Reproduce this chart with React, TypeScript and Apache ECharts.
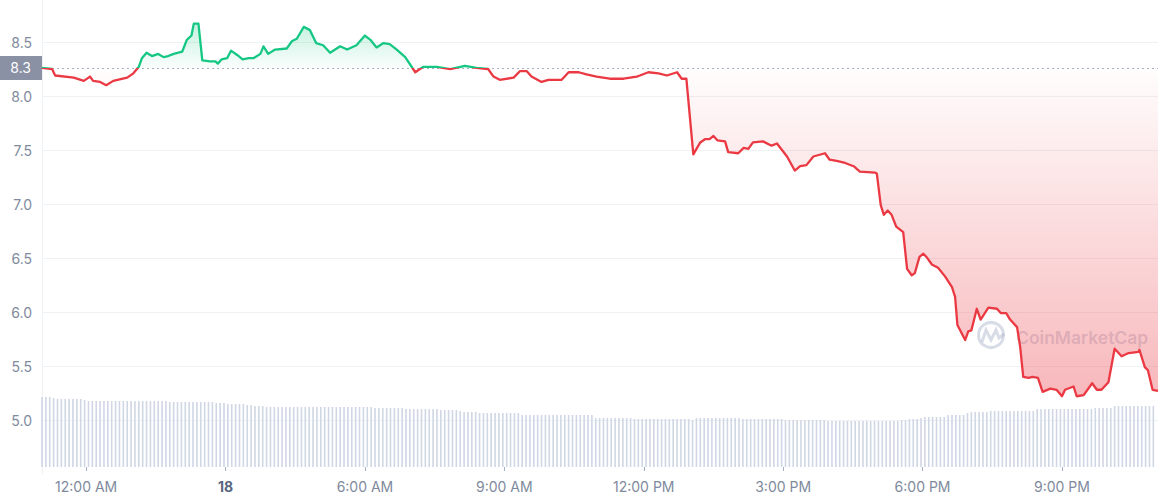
import React, { useEffect, useRef } from "react";
import * as echarts from "echarts";

// Price: minutes relative to the "12:00 AM" tick, and price values
const priceMinutes = [
  -57, -44, -40, -16, -3, 5, 9, 18, 26, 35, 53, 61, 68, 72, 78, 85, 93, 100, 106, 113,
  124, 130, 136, 139, 145, 150, 160, 167, 170, 175, 182, 187, 195, 202, 210, 216, 225, 229, 235, 244,
  259, 266, 272, 281, 289, 297, 306, 315, 328, 337, 349, 360, 367, 375, 384, 392, 401, 412, 425, 435,
  453, 470, 489, 504, 519, 526, 534, 552, 560, 569, 575, 588, 597, 614, 623, 636, 646, 659, 676, 694,
  711, 715, 726, 739, 750, 763, 769, 775, 784, 793, 799, 805, 810, 815, 825, 829, 842, 849, 855, 861,
  874, 885, 892, 905, 915, 922, 930, 939, 954, 960, 969, 980, 991, 999, 1019, 1021, 1026, 1030, 1035, 1040,
  1046, 1055, 1060, 1066, 1070, 1076, 1081, 1085, 1092, 1100, 1109, 1118, 1122, 1125, 1135, 1139, 1143, 1150, 1155, 1165,
  1176, 1181, 1188, 1193, 1202, 1206, 1210, 1217, 1222, 1229, 1235, 1245, 1253, 1260, 1264, 1275, 1279, 1288, 1299, 1305,
  1311, 1320, 1328, 1337, 1346, 1359, 1360, 1367, 1371, 1377, 1384,
];
const priceValues = [
  8.26, 8.25, 8.19, 8.17, 8.14, 8.18, 8.14, 8.13, 8.10, 8.14, 8.17, 8.21, 8.27, 8.35, 8.40, 8.37, 8.39, 8.36, 8.37, 8.39,
  8.41, 8.52, 8.56, 8.67, 8.67, 8.33, 8.32, 8.32, 8.30, 8.34, 8.35, 8.42, 8.38, 8.34, 8.35, 8.35, 8.39, 8.46, 8.39, 8.43,
  8.44, 8.51, 8.53, 8.64, 8.61, 8.49, 8.47, 8.40, 8.46, 8.43, 8.47, 8.56, 8.52, 8.45, 8.49, 8.48, 8.43, 8.36, 8.22, 8.27,
  8.27, 8.25, 8.28, 8.26, 8.25, 8.18, 8.15, 8.17, 8.23, 8.23, 8.18, 8.13, 8.15, 8.15, 8.22, 8.22, 8.20, 8.18, 8.16, 8.16,
  8.18, 8.19, 8.22, 8.21, 8.19, 8.22, 8.16, 8.16, 7.46, 7.57, 7.60, 7.60, 7.63, 7.59, 7.58, 7.48, 7.47, 7.52, 7.51, 7.57,
  7.58, 7.54, 7.56, 7.44, 7.31, 7.35, 7.36, 7.44, 7.47, 7.41, 7.40, 7.38, 7.35, 7.30, 7.29, 7.28, 6.99, 6.90, 6.94, 6.90,
  6.79, 6.74, 6.40, 6.34, 6.36, 6.51, 6.54, 6.51, 6.44, 6.41, 6.33, 6.23, 6.14, 5.88, 5.74, 5.82, 5.83, 6.03, 5.93, 6.04,
  6.03, 5.99, 5.99, 5.93, 5.86, 5.68, 5.40, 5.39, 5.40, 5.39, 5.26, 5.29, 5.28, 5.22, 5.28, 5.31, 5.22, 5.23, 5.34, 5.28,
  5.28, 5.35, 5.66, 5.59, 5.62, 5.63, 5.65, 5.49, 5.46, 5.28, 5.27,
];
const baseValue = 8.26;
const baseLabel = "8.3";

// Price axis
const priceAxisMin = 4.5;
const priceAxisMax = 8.889;
const priceAxisStep = 0.5;

// Volume: one bar every 5 minutes (relative units)
const volumeStartMinute = -57;
const volumeStepMinutes = 5;
const volumeValues = [
  70, 70, 70, 69,
  68, 68, 68, 68, 68, 68, 68, 67,
  66, 66, 66, 66, 66, 66, 66, 66, 66, 66, 66, 66, 66, 66, 66, 66, 66, 66, 66, 66, 66,
  65, 65, 65, 65, 65, 65, 65, 65, 65, 65, 65, 65,
  64, 64, 64, 63, 63, 63, 63, 63, 62, 62,
  61, 61, 61, 60, 60,
  60, 60, 60, 60, 60, 60, 60, 60, 60, 60, 60, 60, 60, 60, 60, 60, 60, 60, 60, 60, 60, 60, 60, 60, 60, 60,
  59, 59, 59, 59, 59, 59, 59, 59, 58, 58, 58, 58, 58, 58, 58,
  58, 58, 57, 57, 57, 57, 57,
  56, 55, 55, 55, 55,
  54, 54, 54, 54, 54, 54, 54, 54, 54, 54, 54,
  52, 52, 52, 52, 52, 52, 52, 52, 52, 52, 52, 52, 52, 52, 52, 52, 52, 52, 52,
  49, 49, 49, 49, 49, 49, 49, 49, 49, 49,
  48, 48, 48, 48, 48, 48, 48, 48, 48, 48, 48, 48, 48, 48, 48,
  47,
  49, 49, 49, 49, 49, 49, 49, 49, 49, 49, 49, 49,
  48, 48, 48, 48, 48, 48, 48, 48, 48, 48, 48, 47, 47, 47, 47, 47, 47, 47, 47, 47, 47, 47,
  46, 46, 46, 46, 46, 46, 46, 46, 46, 46, 46, 46, 46, 46, 46, 46, 46, 46, 46,
  47, 47, 48, 48, 48,
  49, 50, 50, 50, 50, 50, 50,
  52, 52, 52, 52, 52,
  54, 55, 55, 55, 55, 55, 56,
  56, 56, 56, 56, 56, 56, 56, 56, 56, 56, 56,
  58, 58, 58, 58, 58, 58, 58, 58, 58, 58, 58, 58, 58, 58, 58,
  59, 59, 59, 59, 59,
  61, 61, 61, 61, 61, 61, 61, 61, 61, 61, 61,
];

const xMinMinute = -57;
const xMaxMinute = 1384;
const tickStepMinutes = 180;
const tickMinutes = [0, 180, 360, 540, 720, 900, 1080, 1260];
const tickLabels = ["12:00 AM", "18", "6:00 AM", "9:00 AM", "12:00 PM", "3:00 PM", "6:00 PM", "9:00 PM"];
const boldTickLabels = ["18"];

const GREEN = "#16c784";
const RED = "#ea3943";
const FONT = "Inter, 'Noto Sans', sans-serif";

// layout
const PLOT_LEFT = 42;
const PLOT_RIGHT = 3;
const WIDTH = 1161;

export default function App() {
  const ref = useRef<HTMLDivElement>(null);

  useEffect(() => {
    if (!ref.current) return;
    const chart = echarts.init(ref.current, null, { renderer: "svg" });

    const priceData = priceMinutes.map((m, i) => [m, priceValues[i]]);
    const volumeData = volumeValues.map((v, i) => [volumeStartMinute + i * volumeStepMinutes, v]);

    const maxV = Math.max(...priceValues);
    const minV = Math.min(...priceValues);
    const p = (maxV - baseValue) / (maxV - minV);

    const areaGradient = new echarts.graphic.LinearGradient(0, 0, 0, 1, [
      { offset: 0, color: "rgba(22,199,132,0.25)" },
      { offset: p, color: "rgba(22,199,132,0.02)" },
      { offset: p, color: "rgba(234,57,67,0.01)" },
      { offset: 1, color: "rgba(234,57,67,0.36)" },
    ]);
    const lineGradient = new echarts.graphic.LinearGradient(0, 0, 0, 1, [
      { offset: 0, color: GREEN },
      { offset: p, color: GREEN },
      { offset: p, color: RED },
      { offset: 1, color: RED },
    ]);

    // the labelled time axis starts at a multiple of the tick step; its grid
    // extends to the left so that the shared time range lines up with the price grid
    const plotWidth = WIDTH - PLOT_LEFT - PLOT_RIGHT;
    const pxPerMin = plotWidth / (xMaxMinute - xMinMinute);
    const axisMin = Math.floor(xMinMinute / tickStepMinutes) * tickStepMinutes;
    const volLeft = PLOT_LEFT - (xMinMinute - axisMin) * pxPerMin;

    const wm = "rgba(160,172,196,0.42)";

    chart.setOption({
      animation: false,
      backgroundColor: "#ffffff",
      textStyle: { fontFamily: FONT },
      grid: [
        { left: PLOT_LEFT, right: PLOT_RIGHT, top: 0, height: 474, outerBoundsMode: "none" },
        { left: volLeft, right: PLOT_RIGHT, top: 367, height: 100, outerBoundsMode: "none" },
      ],
      xAxis: [
        {
          type: "value",
          gridIndex: 0,
          min: xMinMinute,
          max: xMaxMinute,
          show: false,
        },
        {
          type: "value",
          gridIndex: 1,
          min: axisMin,
          max: xMaxMinute,
          interval: tickStepMinutes,
          axisLine: { show: false, onZero: false },
          splitLine: { show: false },
          axisTick: {
            show: true,
            length: 4,
            lineStyle: { color: "#a6b0c3", width: 1 },
          },
          axisLabel: {
            showMinLabel: false,
            showMaxLabel: false,
            margin: 12,
            fontSize: 14,
            color: "#808a9d",
            fontFamily: FONT,
            formatter: (v: number) => {
              const idx = tickMinutes.indexOf(Math.round(v));
              const label = idx >= 0 ? tickLabels[idx] : "";
              return boldTickLabels.includes(label) ? `{b|${label}}` : label;
            },
            rich: {
              b: { fontWeight: "bold", color: "#58667e", fontSize: 14, fontFamily: FONT },
            },
          },
        },
      ],
      yAxis: [
        {
          type: "value",
          gridIndex: 0,
          min: priceAxisMin,
          max: priceAxisMax,
          interval: priceAxisStep,
          axisLine: { show: true, onZero: false, lineStyle: { color: "#eff2f5", width: 1 } },
          axisTick: { show: false },
          splitLine: {
            show: true,
            showMinLine: false,
            showMaxLine: false,
            lineStyle: { color: "#eff2f5", width: 1 },
          },
          axisLabel: {
            showMinLabel: false,
            showMaxLabel: false,
            margin: 10,
            fontSize: 14,
            color: "#808a9d",
            fontFamily: FONT,
            formatter: (v: number) => v.toFixed(1),
          },
        },
        {
          type: "value",
          gridIndex: 1,
          min: 0,
          max: 100,
          show: false,
        },
      ],
      series: [
        {
          type: "line",
          xAxisIndex: 0,
          yAxisIndex: 0,
          data: priceData,
          showSymbol: false,
          symbol: "none",
          z: 5,
          lineStyle: { width: 2.3, color: lineGradient, join: "round" },
          areaStyle: { origin: baseValue, color: areaGradient, opacity: 1 },
          markLine: {
            silent: true,
            symbol: ["none", "none"],
            data: [{ yAxis: baseValue }],
            lineStyle: { type: [2, 3], color: "#a6b0c3", width: 1 },
            label: {
              show: true,
              position: "start",
              distance: 0,
              formatter: baseLabel,
              color: "#ffffff",
              fontSize: 14,
              fontFamily: FONT,
              backgroundColor: "#8a91a5",
              padding: [5, 11, 5, 11],
            },
          },
        },
        {
          type: "bar",
          xAxisIndex: 1,
          yAxisIndex: 1,
          data: volumeData,
          barWidth: 1.6,
          z: 1,
          itemStyle: { color: "#cfd6e4" },
        },
      ],
      graphic: [
        {
          type: "group",
          z: 50,
          children: [
            {
              type: "circle",
              shape: { cx: 991, cy: 335, r: 12.5 },
              style: { fill: "none", stroke: wm, lineWidth: 3 },
            },
            {
              type: "polyline",
              shape: {
                points: [
                  [982, 342],
                  [986, 330],
                  [991, 340],
                  [996, 330],
                  [999, 338],
                  [1004, 334],
                ],
              },
              style: { fill: "none", stroke: wm, lineWidth: 3 },
            },
            {
              type: "text",
              x: 1016,
              y: 337,
              style: {
                text: "CoinMarketCap",
                fill: wm,
                font: `600 17.5px ${FONT}`,
                textVerticalAlign: "middle",
              },
            },
          ],
        },
      ],
    });

    return () => chart.dispose();
  }, []);

  return (
    <div
      ref={ref}
      style={{ position: "absolute", left: 0, top: 0, width: WIDTH, height: 500, background: "#fff" }}
    />
  );
}
